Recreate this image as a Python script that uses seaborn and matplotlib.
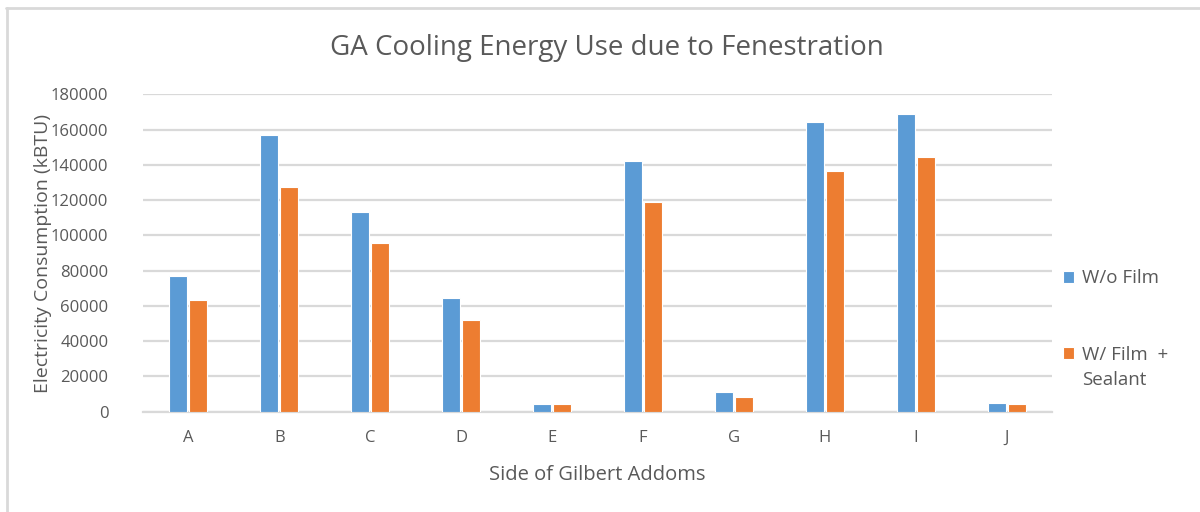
import pandas as pd
import seaborn as sns
import matplotlib.pyplot as plt
from matplotlib.lines import Line2D

sides = ['A', 'B', 'C', 'D', 'E', 'F', 'G', 'H', 'I', 'J']
without_film = [77000, 156700, 113400, 64300, 4300, 142400, 11000, 164100, 168700, 4900]
with_film = [63200, 127200, 95900, 52000, 4300, 118900, 8500, 136700, 144300, 4300]
series_names = ['W/o Film', 'W/ Film  +']
y_ticks = [0, 20000, 40000, 60000, 80000, 100000, 120000, 140000, 160000, 180000]

df = pd.DataFrame({
    'Side': sides * 2,
    'Value': without_film + with_film,
    'Series': [series_names[0]] * len(sides) + [series_names[1]] * len(sides),
})

sns.set_theme(style="white")
plt.rcParams['font.family'] = ['Open Sans', 'DejaVu Sans']

text_color = '#595959'
grid_color = '#d9d9d9'

fig = plt.figure(figsize=(12, 5.12), dpi=100)
ax = fig.add_axes([0.1192, 0.1959, 0.7575, 0.6199])

sns.barplot(data=df, x='Side', y='Value', hue='Series',
            palette=['#5B9BD5', '#ED7D31'], saturation=1, width=0.44, gap=0.1,
            edgecolor='white', linewidth=0.8, ax=ax, zorder=3)

ax.set_ylim(0, 180000)
ax.set_xlim(-0.5, len(sides) - 0.5)
ax.set_yticks(y_ticks)
ax.set_yticklabels([str(v) for v in y_ticks])
ax.yaxis.grid(True, color=grid_color, linewidth=1.6, zorder=0)
ax.set_axisbelow(True)
for s in ['top', 'right', 'left']:
    ax.spines[s].set_visible(False)
ax.spines['bottom'].set_color(grid_color)
ax.spines['bottom'].set_linewidth(1.6)
ax.tick_params(axis='both', length=0, labelsize=12, colors=text_color)
ax.tick_params(axis='y', pad=25)
ax.tick_params(axis='x', pad=13)

ax.set_xlabel('Side of Gilbert Addoms', fontsize=14.5, color=text_color)
ax.set_ylabel('Electricity Consumption (kBTU)', fontsize=14, color=text_color)
ax.xaxis.set_label_coords(0.5, -0.168)
ax.yaxis.set_label_coords(-0.100, 0.5)
fig.text(0.506, 0.906, 'GA Cooling Energy Use due to Fenestration',
         ha='center', va='center', fontsize=20, color=text_color)

leg = ax.legend(loc='center left', bbox_to_anchor=(1.004, 0.3), frameon=False,
                fontsize=13.5, labelcolor=text_color, handlelength=0.6,
                handleheight=0.6, handletextpad=0.4, labelspacing=3.1,
                borderaxespad=0)

# second line of the orange legend label sits under the first one
fig.canvas.draw()
bb = leg.texts[1].get_window_extent()
fig.text(bb.x0 / fig.bbox.width, (bb.y0 - 25) / fig.bbox.height, 'Sealant',
         ha='left', va='bottom', fontsize=13.5, color=text_color)

# chart frame fragments (top and left edges)
fig.add_artist(Line2D([0.005, 1.0], [0.984, 0.984], color=grid_color, linewidth=2))
fig.add_artist(Line2D([0.0058, 0.0058], [0.0, 0.984], color=grid_color, linewidth=2))

plt.savefig('out.png', dpi=100)
